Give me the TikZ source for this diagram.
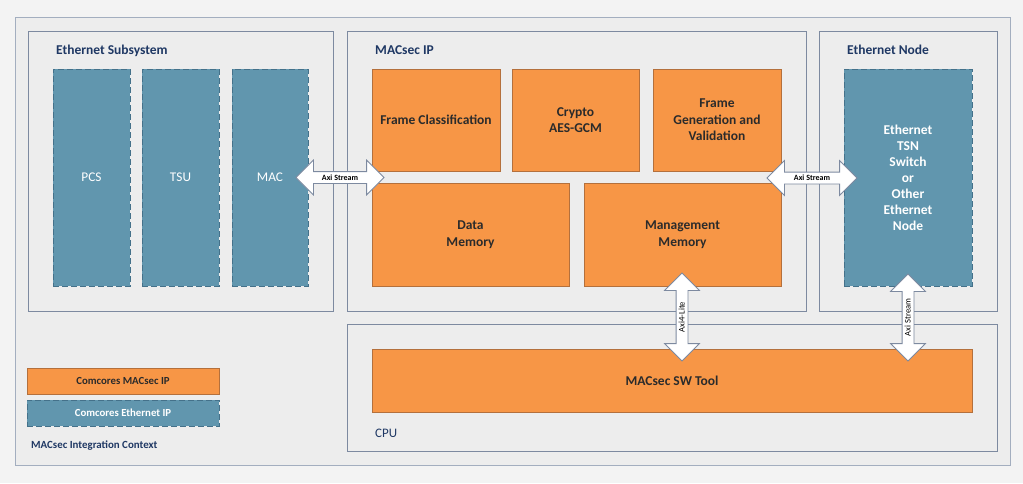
\documentclass[tikz,border=0pt]{standalone}
\usepackage{fontspec}
\setmainfont{Carlito}
\usetikzlibrary{shapes.arrows}
\definecolor{pagebg}{HTML}{F3F3F3}
\definecolor{framefill}{HTML}{EDEDED}
\definecolor{frameline}{HTML}{A3AEBF}
\definecolor{boxline}{HTML}{7D8AA0}
\definecolor{orng}{HTML}{F79646}
\definecolor{orngline}{HTML}{B4703C}
\definecolor{tealc}{HTML}{6196AE}
\definecolor{tealline}{HTML}{44718A}
\definecolor{navy}{HTML}{1F3864}
\definecolor{darktext}{HTML}{2B2B2B}
\begin{document}
\begin{tikzpicture}[x=1pt,y=-1pt,
  region/.style={draw=boxline, fill=framefill, line width=0.8pt, anchor=north west, inner sep=0pt, outer sep=0pt},
  obox/.style={draw=orngline, fill=orng, line width=0.7pt, anchor=north west, inner sep=0pt, outer sep=0pt,
    align=center, text=darktext, font=\fontsize{13.5}{16.5}\selectfont\bfseries},
  tbox/.style={draw=tealline, fill=tealc, line width=0.9pt, dash pattern=on 6pt off 3pt, anchor=north west,
    inner sep=0pt, outer sep=0pt, align=center, text=white, font=\fontsize{13.5}{16}\selectfont\bfseries},
  title/.style={anchor=base west, inner sep=0pt, text=navy, font=\fontsize{13.5}{16}\selectfont\bfseries},
  bus/.style={double arrow, draw=boxline, fill=white, line width=0.8pt, inner xsep=0pt, inner ysep=0pt,
    text height=8.1pt, text depth=2.9pt, double arrow head extend=11.5pt, outer sep=0pt,
    font=\fontsize{8.6}{9}\selectfont}
]
% page and outer frame
\fill[pagebg] (0,0) rectangle (1023,483);
\useasboundingbox (0,0) rectangle (1023,483);
\draw[frameline, fill=framefill, line width=0.9pt] (15,17) rectangle (1010,465);

% regions
\node[region, minimum width=305, minimum height=280] (es) at (28,31) {};
\node[region, minimum width=459, minimum height=280] (mip) at (347,31) {};
\node[region, minimum width=178, minimum height=280] (en) at (819,31) {};
\node[region, minimum width=650, minimum height=127] (cpu) at (347,324) {};

% titles
\node[title] (tes) at (56,54) {Ethernet Subsystem};
\node[title] (tmip) at (375,54) {MACsec IP};
\node[title] (ten) at (847,54) {Ethernet Node};
\node[title, font=\fontsize{13}{16}\selectfont] (tcpu) at (375,437) {CPU};
\node[title, font=\fontsize{10.9}{13}\selectfont\bfseries] (tctx) at (31,448) {MACsec Integration Context};

% Ethernet subsystem blocks
\node[tbox, minimum width=77, minimum height=217, font=\fontsize{13.3}{16}\selectfont] (pcs) at (53,69) {PCS};
\node[tbox, minimum width=77, minimum height=217, font=\fontsize{13.3}{16}\selectfont] (tsu) at (142,69) {TSU};
\node[tbox, minimum width=76, minimum height=217, font=\fontsize{13.3}{16}\selectfont] (mac) at (232,69) {MAC};

% MACsec IP blocks
\node[obox, minimum width=128, minimum height=102] (fc) at (372,69) {Frame Classification};
\node[obox, minimum width=127, minimum height=102] (cry) at (512,69) {Crypto\\AES-GCM};
\node[obox, minimum width=128, minimum height=102] (fgv) at (653,69) {Frame\\Generation and\\Validation};
\node[obox, minimum width=197, minimum height=103] (dm) at (372,183) {Data\\Memory};
\node[obox, minimum width=197, minimum height=103] (mm) at (584,183) {Management\\Memory};

% Ethernet node block
\node[tbox, minimum width=128, minimum height=217] (tsn) at (844,69) {Ethernet\\TSN\\Switch\\or\\Other\\Ethernet\\Node};

% CPU block
\node[obox, minimum width=600, minimum height=63] (sw) at (372,349) {MACsec SW Tool};

% legend
\node[obox, minimum width=192, minimum height=26, font=\fontsize{10.8}{13}\selectfont\bfseries] (lg1) at (27,368) {Comcores MACsec IP};
\node[tbox, minimum width=192, minimum height=26, font=\fontsize{10.8}{13}\selectfont\bfseries] (lg2) at (27,400) {Comcores Ethernet IP};

% bus arrows
\node[bus, minimum height=88, font=\fontsize{8}{9}\selectfont\bfseries] (ax1) at (340,177.5) {Axi Stream};
\node[bus, minimum height=90, font=\fontsize{8}{9}\selectfont\bfseries] (ax2) at (812,178) {Axi Stream};
\node[bus, minimum height=88, rotate=90] (axl) at (682,317) {Axi4-Lite};
\node[bus, minimum height=87, rotate=90] (ax3) at (908,317.5) {Axi Stream};
\end{tikzpicture}
\end{document}
